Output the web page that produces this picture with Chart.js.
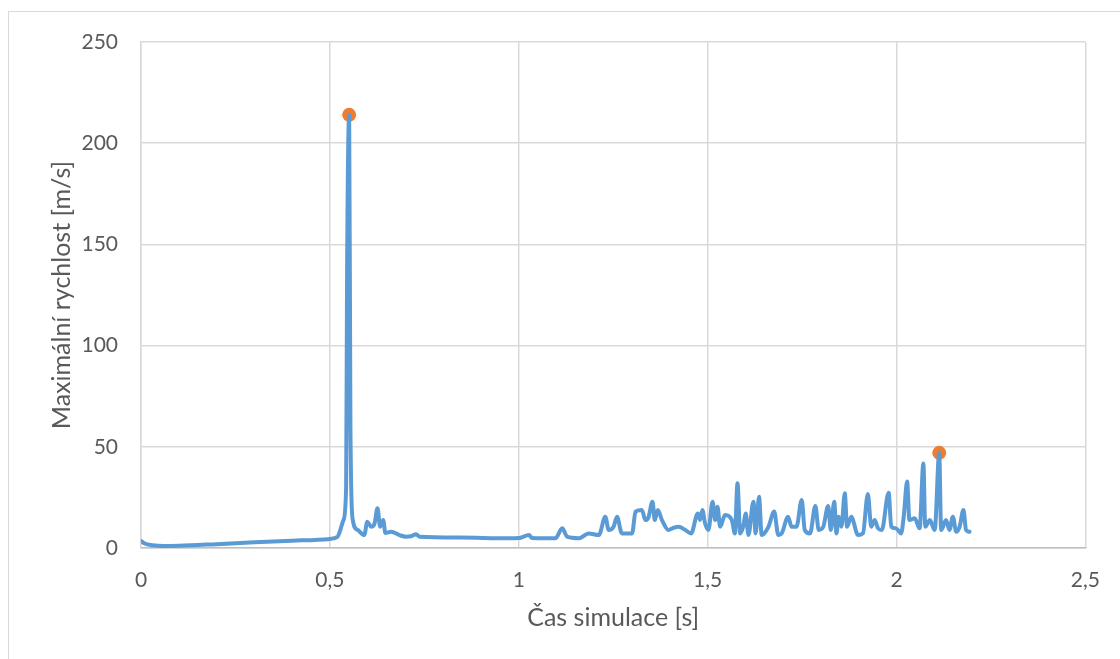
<!DOCTYPE html>
<html>
<head>
<meta charset="utf-8">
<script src="https://cdn.jsdelivr.net/npm/chart.js@4/dist/chart.umd.min.js"></script>
<style>
  html, body { margin: 0; padding: 0; background: #fff; overflow: hidden; }
  #wrap { position: relative; width: 1120px; height: 659px; }
  #frame { position: absolute; left: 8px; top: 11px; width: 1200px; height: 800px; border: 1px solid #d9d9d9; }
  #chart { position: absolute; left: 0; top: 0; }
</style>
</head>
<body>
<div id="wrap">
  <div id="frame"></div>
  <canvas id="chart" width="1120" height="659"></canvas>
</div>
<script>
// simulation time [s]
const timeS = [
  0.000, 0.010, 0.030, 0.060, 0.100, 0.200, 0.300, 0.400, 0.500, 0.520,
  0.525, 0.536, 0.543, 0.5455, 0.551, 0.5544, 0.5605, 0.573, 0.591, 0.599,
  0.609, 0.618, 0.626, 0.633, 0.641, 0.647, 0.662, 0.684, 0.701, 0.715,
  0.728, 0.737, 0.842, 0.974, 1.000, 1.027, 1.035, 1.097, 1.115, 1.128,
  1.159, 1.185, 1.212, 1.229, 1.238, 1.251, 1.260, 1.273, 1.300, 1.309,
  1.326, 1.335, 1.343, 1.354, 1.360, 1.368, 1.379, 1.396, 1.410, 1.423,
  1.441, 1.456, 1.474, 1.480, 1.486, 1.493, 1.502, 1.513, 1.520, 1.526,
  1.533, 1.546, 1.564, 1.572, 1.579, 1.586, 1.594, 1.601, 1.608, 1.621,
  1.627, 1.636, 1.643, 1.661, 1.676, 1.687, 1.696, 1.713, 1.722, 1.735,
  1.749, 1.757, 1.771, 1.785, 1.794, 1.806, 1.819, 1.826, 1.835, 1.841,
  1.847, 1.854, 1.863, 1.869, 1.880, 1.898, 1.911, 1.924, 1.933, 1.942,
  1.951, 1.961, 1.979, 1.986, 1.999, 2.012, 2.019, 2.028, 2.034, 2.048,
  2.061, 2.071, 2.076, 2.088, 2.101, 2.113, 2.118, 2.131, 2.140, 2.149,
  2.158, 2.167, 2.177, 2.184, 2.193
];

// maximum velocity [m/s]
const speedMs = [
  3.5, 2.2, 1.4, 1.0, 1.1, 1.9, 2.8, 3.6, 4.5, 5.5,
  7.4, 13.8, 30, 137, 214, 60, 14, 9, 6.4, 13,
  10.5, 12, 19.7, 10.5, 13.8, 7.4, 8, 6.4, 5.6, 5.8,
  6.8, 5.6, 5.2, 4.8, 4.9, 6.4, 5, 4.8, 9.7, 5.6,
  4.8, 7.2, 6.4, 15.5, 8.9, 10.5, 15.5, 7.2, 7.2, 18,
  18.8, 13.8, 15, 22.9, 13.8, 18.8, 13.8, 8.9, 10, 10.5,
  8.9, 7.2, 17, 13.8, 18.8, 12.2, 8.9, 22.9, 13.8, 20.4,
  10.5, 16.3, 13.8, 7.2, 32, 7.2, 10.5, 17, 6.4, 22.9,
  7.2, 25.3, 6.4, 10.5, 18, 6.4, 7.2, 15.5, 10.5, 10.5,
  23.7, 8.9, 7.2, 20.7, 8.9, 10.5, 20.7, 8.9, 22.9, 7.2,
  15.5, 10.5, 27, 10.5, 15.5, 6.4, 7.2, 26.7, 10.5, 13.8,
  9.7, 8.9, 27.3, 10.5, 9.7, 7.2, 15.5, 32.8, 13.8, 14.7,
  9.7, 41.8, 10.5, 13.8, 8.9, 47, 8.9, 13.8, 8.9, 15.5,
  8, 10.5, 18.8, 8.9, 8
];

// highlighted maxima
const peakTimes = [0.551, 2.113];
const peakSpeeds = [214, 47];

const xTicks = [0, 0.5, 1, 1.5, 2, 2.5];
const yTicks = [0, 50, 100, 150, 200, 250];

const textColor = "#595959";
const gridColor = "#d9d9d9";
const tickFont = { family: "Lato", size: 21 };
const titleFont = { family: "Lato", size: 25 };

const toPoints = (xs, ys) => xs.map((x, i) => ({ x, y: ys[i] }));

new Chart(document.getElementById("chart").getContext("2d"), {
  type: "line",
  data: {
    datasets: [
      {
        label: "Maximální rychlost",
        data: toPoints(timeS, speedMs),
        borderColor: "#5b9bd5",
        borderWidth: 4,
        borderJoinStyle: "round",
        borderCapStyle: "round",
        pointRadius: 0,
        cubicInterpolationMode: "monotone",
        fill: false,
      },
      {
        label: "Maximum",
        data: toPoints(peakTimes, peakSpeeds),
        showLine: false,
        pointRadius: 7,
        pointBackgroundColor: "#ed7d31",
        pointBorderColor: "#ed7d31",
        pointBorderWidth: 0,
      },
    ],
  },
  options: {
    responsive: false,
    animation: false,
    devicePixelRatio: 1,
    layout: { padding: { left: 0, top: 42, right: 24, bottom: 0 } },
    plugins: {
      legend: { display: false },
      tooltip: { enabled: false },
    },
    scales: {
      x: {
        type: "linear",
        min: 0,
        max: 2.5,
        afterBuildTicks: (s) => { s.ticks = xTicks.map((v) => ({ value: v })); },
        afterFit: (s) => { s.height = 111; },
        grid: { color: gridColor, lineWidth: 1.5, drawTicks: false },
        border: { color: "#bfbfbf", width: 1.5 },
        ticks: {
          color: textColor,
          font: tickFont,
          padding: 20,
          maxRotation: 0,
          callback: (v) => String(v).replace(".", ","),
        },
        title: {
          display: true,
          text: "Čas simulace [s]",
          color: textColor,
          font: titleFont,
          padding: { top: 0, bottom: 26 },
        },
      },
      y: {
        min: 0,
        max: 250,
        afterBuildTicks: (s) => { s.ticks = yTicks.map((v) => ({ value: v })); },
        afterFit: (s) => { s.width = 141; },
        grid: { color: gridColor, lineWidth: 1.5, drawTicks: false },
        border: { color: gridColor, width: 1.5 },
        ticks: { color: textColor, font: tickFont, padding: 23 },
        title: {
          display: true,
          text: "Maximální rychlost [m/s]",
          color: textColor,
          font: titleFont,
          padding: { top: 47, bottom: 0 },
        },
      },
    },
  },
});
</script>
</body>
</html>
